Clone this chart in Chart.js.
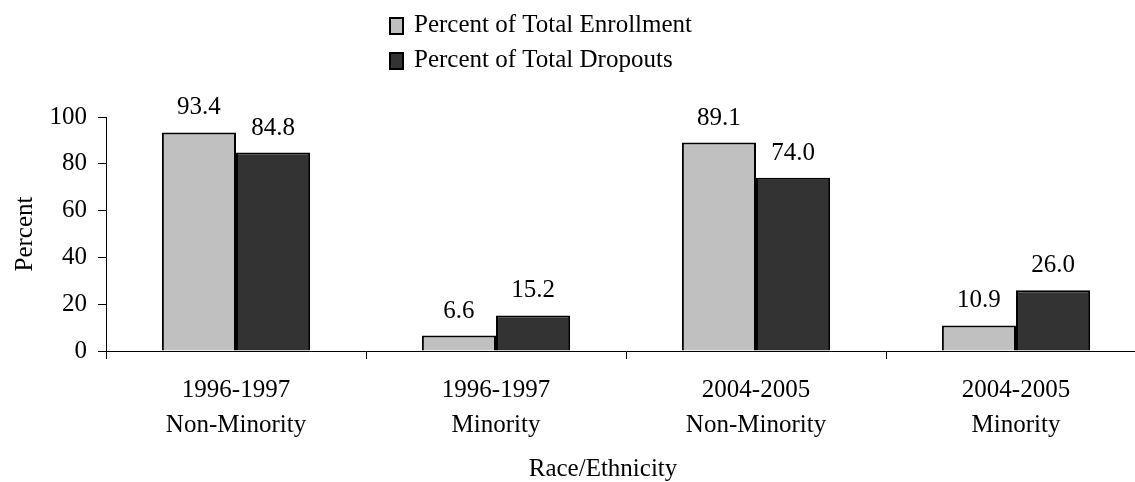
<!DOCTYPE html>
<html>
<head>
<meta charset="utf-8">
<script src="https://cdn.jsdelivr.net/npm/chart.js@4/dist/chart.umd.min.js"></script>
<style>
  html, body { margin: 0; padding: 0; background: #fff; overflow: hidden; }
  #wrap { width: 1160px; height: 482px; position: relative; }
</style>
</head>
<body>
<div id="wrap"><canvas id="chart"></canvas></div>
<script>
// values
const categories = [
    ['1996-1997', 'Non-Minority'],
    ['1996-1997', 'Minority'],
    ['2004-2005', 'Non-Minority'],
    ['2004-2005', 'Minority']
];
const enrollment = [93.4, 6.6, 89.1, 10.9];
const dropouts = [84.8, 15.2, 74.0, 26.0];
const seriesNames = ['Percent of Total Enrollment', 'Percent of Total Dropouts'];
const yTicks = [0, 20, 40, 60, 80, 100];

const FONT = '"Liberation Serif", "Times New Roman", serif';

// value labels above each bar
const barLabels = {
    id: 'barLabels',
    afterDatasetsDraw(chart) {
        const ctx = chart.ctx;
        ctx.save();
        ctx.font = '25px ' + FONT;
        ctx.fillStyle = '#000';
        ctx.textAlign = 'center';
        ctx.textBaseline = 'alphabetic';
        chart.data.datasets.forEach((ds, i) => {
            chart.getDatasetMeta(i).data.forEach((bar, j) => {
                ctx.fillText(ds.data[j].toFixed(1), bar.x, bar.y - 18);
            });
        });
        ctx.restore();
    }
};

// stacked legend at the top plus the two axis titles
const extras = {
    id: 'extras',
    afterDraw(chart) {
        const ctx = chart.ctx;
        ctx.save();
        ctx.font = '25px ' + FONT;
        ctx.fillStyle = '#000';
        ctx.textBaseline = 'alphabetic';
        chart.data.datasets.forEach((ds, i) => {
            const y = 18 + i * 35;
            ctx.fillStyle = ds.backgroundColor;
            ctx.fillRect(390, y, 13, 16);
            ctx.strokeStyle = '#000';
            ctx.lineWidth = 2;
            ctx.strokeRect(390, y, 13, 16);
            ctx.fillStyle = '#000';
            ctx.textAlign = 'left';
            ctx.fillText(ds.label, 414, y + 14);
        });

        const area = chart.chartArea;
        ctx.textAlign = 'center';
        ctx.fillText('Race/Ethnicity', 603, 476);

        ctx.translate(32, (area.top + area.bottom) / 2);
        ctx.rotate(-Math.PI / 2);
        ctx.fillText('Percent', 0, 0);
        ctx.restore();
    }
};

new Chart(document.getElementById('chart'), {
    type: 'bar',
    data: {
        labels: categories,
        datasets: [
            { label: seriesNames[0], data: enrollment, backgroundColor: '#c0c0c0', borderColor: '#000', borderWidth: 2 },
            { label: seriesNames[1], data: dropouts, backgroundColor: '#333333', borderColor: '#000', borderWidth: 2 }
        ]
    },
    options: {
        responsive: true,
        maintainAspectRatio: false,
        animation: false,
        categoryPercentage: 0.57,
        barPercentage: 1,
        layout: { padding: { top: 117, right: 14, left: 0, bottom: 0 } },
        plugins: {
            legend: { display: false },
            tooltip: { enabled: false }
        },
        scales: {
            x: {
                afterFit(s) { s.height = 131; },
                grid: { offset: true, drawOnChartArea: false, color: '#000', tickLength: 8 },
                border: { color: '#000', width: 1 },
                ticks: {
                    color: '#000',
                    padding: 14,
                    maxRotation: 0,
                    font: { family: FONT, size: 25, lineHeight: 1.4 }
                }
            },
            y: {
                min: 0,
                max: 100,
                afterFit(s) { s.width = 106; },
                afterBuildTicks(s) { s.ticks = yTicks.map(v => ({ value: v })); },
                grid: { drawOnChartArea: false, color: '#000', tickLength: 8 },
                border: { color: '#000', width: 1 },
                ticks: {
                    color: '#000',
                    padding: 11,
                    font: { family: FONT, size: 25 }
                }
            }
        }
    },
    plugins: [barLabels, extras]
});
</script>
</body>
</html>
